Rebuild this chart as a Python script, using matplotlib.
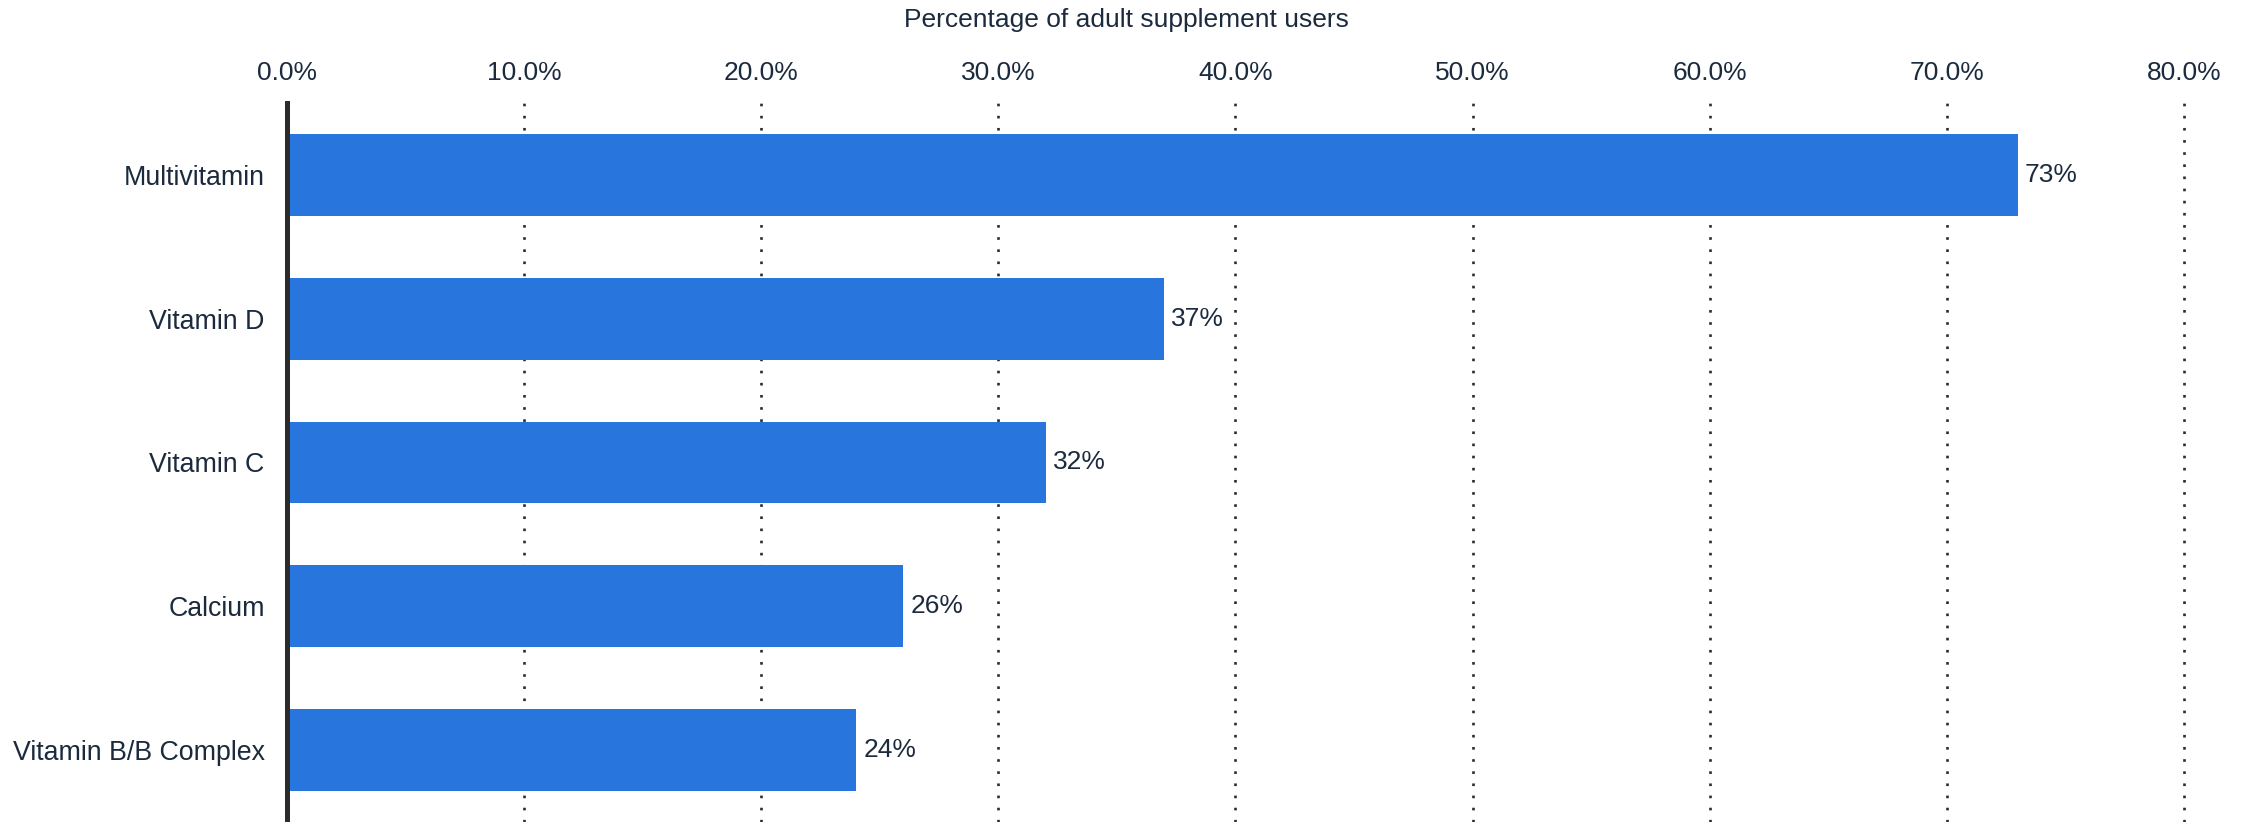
import matplotlib.pyplot as plt
from matplotlib.ticker import PercentFormatter

categories = ["Multivitamin", "Vitamin D", "Vitamin C", "Calcium", "Vitamin B/B Complex"]
values = [73, 37, 32, 26, 24]
xticks = [0, 10, 20, 30, 40, 50, 60, 70, 80]

text_color = "#1b2a3d"
bar_color = "#2876dd"

plt.rcParams["font.family"] = ["Liberation Sans", "DejaVu Sans"]

fig = plt.figure(figsize=(22.52, 8.22), dpi=100)
ax = fig.add_axes([0.1274, 0.0, 0.8424, 0.8747])

y = range(len(categories))
bars = ax.barh(y, values, height=0.57, color=bar_color, zorder=3)

ax.set_ylim(len(categories) - 0.5, -0.5)
ax.set_xlim(0, 80)
ax.set_yticks(list(y))
ax.set_yticklabels(categories, fontsize=19.3, color=text_color)

ax.xaxis.tick_top()
ax.set_xticks(xticks)
ax.xaxis.set_major_formatter(PercentFormatter(decimals=1))
ax.tick_params(axis="x", length=0, pad=13, labelsize=19, labelcolor=text_color)
ax.tick_params(axis="y", length=0, pad=16)

# axis title sits centred on the whole figure
fig.text(0.5, 0.976, "Percentage of adult supplement users", fontsize=19,
         color=text_color, ha="center", va="center")

# dotted vertical gridlines, skip the one at zero (covered by the axis line)
for t in xticks[1:]:
    ax.axvline(t, color="#2b2b2b", linewidth=1.9, dashes=(1, 3.6),
               zorder=1, clip_on=False)

for s in ["top", "right", "bottom"]:
    ax.spines[s].set_visible(False)
ax.spines["left"].set_linewidth(3.6)
ax.spines["left"].set_color("#2b2b2b")
ax.spines["left"].set_zorder(4)

for b, v in zip(bars, values):
    ax.text(v + 0.3, b.get_y() + b.get_height() / 2, f"{v}%",
            va="center", ha="left", fontsize=19, color=text_color)

fig.savefig("out.png", dpi=100)
